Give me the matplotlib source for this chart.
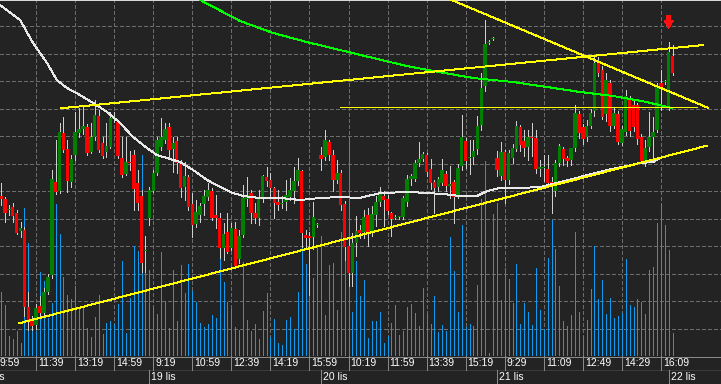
import numpy as np
import matplotlib
matplotlib.use("Agg")
import matplotlib.pyplot as plt
from matplotlib.transforms import offset_copy

plt.rcParams['font.family'] = ['Liberation Sans', 'DejaVu Sans']
plt.rcParams['lines.antialiased'] = False
plt.rcParams['patch.antialiased'] = False

# ---------------- data ----------------
bar_index = list(range(1, 174))

opens = [160,157,146,149,143,125,126,49,36,31,
         50,43,64,81,174,165,223,207,174,201,
         223,227,229,204,219,240,213,204,209,237,
         234,198,182,194,201,173,160,105,138,165,
         183,209,216,229,207,215,193,169,179,152,
         132,141,152,159,165,141,138,108,124,108,
         127,97,121,157,163,143,138,158,179,176,
         168,154,152,154,159,165,175,185,121,120,
         119,131,201,199,214,201,176,183,152,110,
         83,113,126,124,141,123,141,154,160,157,
         143,138,139,139,154,177,177,193,197,201,
         187,174,169,173,182,170,174,160,190,215,
         198,199,207,231,270,313,317,198,180,204,
         176,198,207,229,215,209,219,218,187,188,
         187,174,165,193,207,198,196,208,242,229,
         219,230,245,293,286,242,273,230,242,213,
         224,256,251,251,219,195,209,219,226,273,
         274,249,300]
highs = [173,159,151,153,146,134,129,64,40,52,
         60,68,82,186,216,233,239,216,201,244,
         248,249,232,233,256,246,219,233,244,244,
         236,219,219,205,206,186,166,120,169,186,
         219,238,233,233,219,219,196,194,181,163,
         156,153,166,173,168,161,143,133,143,133,
         134,126,171,179,166,153,166,181,189,183,
         169,166,160,176,178,189,198,186,126,124,
         154,133,209,226,216,206,196,186,155,118,
         123,140,131,146,148,150,160,169,165,161,
         144,141,140,160,181,182,196,214,204,203,
         197,176,179,197,185,190,176,192,241,218,
         216,216,240,283,336,316,319,205,214,206,
         206,212,235,231,226,226,233,226,196,201,
         201,179,196,212,209,200,208,251,245,232,
         236,247,299,299,290,283,276,248,245,230,
         266,260,255,253,222,216,244,239,273,286,
         276,314,311]
lows = [151,134,141,134,122,119,40,26,26,27,
        40,40,62,78,162,163,204,164,169,196,
        219,222,201,203,216,204,198,199,208,234,
        198,179,181,186,146,146,84,84,131,164,
        181,206,213,199,184,183,159,156,146,119,
        129,134,141,156,136,128,98,96,103,106,
        89,93,119,150,133,133,131,154,170,159,
        138,146,148,146,156,153,171,109,108,61,
        107,129,186,196,196,165,173,146,96,70,
        70,100,118,118,110,120,130,150,130,142,
        120,137,137,137,150,171,175,190,195,180,
        167,143,165,171,165,158,133,158,186,188,
        182,192,202,226,265,312,316,180,176,153,
        172,193,205,205,200,196,200,183,180,175,
        169,143,160,190,191,190,191,205,218,212,
        215,228,240,280,237,235,225,228,212,211,
        221,220,225,212,193,190,205,196,224,246,
        272,246,281]
closes = [157,143,147,140,123,128,49,34,30,48,
          43,64,79,177,164,224,206,175,197,224,
          227,230,203,219,241,206,200,210,238,238,
          200,181,194,193,167,153,93,106,166,183,
          216,219,227,206,213,193,168,180,149,131,
          144,150,160,166,138,138,108,122,104,128,
          90,120,158,161,143,138,158,180,175,168,
          153,151,153,161,166,175,186,123,118,118,
          139,131,197,216,201,176,183,151,109,83,
          113,125,123,139,123,142,154,164,156,145,
          137,139,139,158,177,180,193,197,202,184,
          173,168,177,186,170,172,159,188,219,195,
          199,205,230,268,312,314,318,186,204,176,
          203,208,230,211,208,219,218,187,189,188,
          173,170,193,210,197,195,208,243,223,217,
          230,243,293,283,239,276,230,243,214,227,
          260,225,229,217,195,208,219,224,270,269,
          274,304,283]
volumes = [64,51,20,17,25,13,148,113,26,25,
           84,75,38,53,152,122,79,61,57,70,
           49,49,28,19,39,61,22,33,35,32,
           52,95,23,58,110,105,201,118,86,49,
           42,104,55,28,86,35,91,63,92,65,
           54,33,29,32,41,38,97,74,54,47,
           29,26,94,36,25,32,17,45,63,19,
           37,13,11,36,39,27,64,167,92,74,
           78,109,120,41,91,93,46,124,100,219,
           44,95,60,76,18,35,35,44,13,20,
           33,51,21,25,49,52,43,30,68,42,
           32,60,24,31,25,119,85,44,131,29,
           32,30,71,157,195,3,142,153,56,88,
           77,53,92,32,53,44,31,88,46,27,
           98,136,107,70,35,30,41,124,44,20,
           36,67,110,57,76,42,58,38,40,43,
           97,51,49,57,54,42,86,89,133,152,
           131,106,23]

tick_index = list(range(0, 171, 10))
tick_labels = ['9:59', '11:39', '13:19', '14:59', '9:19', '10:59', '12:39', '14:19',
               '15:59', '10:19', '11:59', '13:39', '15:19', '9:29', '11:09', '12:49',
               '14:29', '16:09']
day_start_index = [-5, 39, 83, 128, 172]
day_labels = ['18 lis', '19 lis', '20 lis', '21 lis', '22 lis']

# slow moving average (green) and fast moving average (white)
ma_slow_index = [50, 52.0, 62.2, 70.7, 79.3, 87.8, 96.3, 104.9, 111.7, 121.9, 132.1,
                 140.8, 149.3, 157.8, 166.4, 170.6, 172.8]
ma_slow_value = [360, 356, 335, 323, 314, 306, 298, 290, 285, 278, 274,
                 269, 264, 260, 254, 250, 248]
ma_fast_index = [0.7, 5.9, 9.2, 12.8, 15.3, 17.9, 21.2, 24.6, 28.2, 31.5, 34.8, 38.4,
                 40.9, 43.5, 46.8, 50.2, 53.8, 57.1, 60.4, 63.0, 67.3, 72.5, 77.6,
                 82.7, 87.8, 92.9, 98.1, 105.8, 114.2, 118.6, 122.9, 125.5, 128.8,
                 133.9, 139.1, 144.2, 149.3, 156.2, 161.3, 164.7, 168.0, 169.8]
ma_fast_value = [351, 336, 313, 293, 276, 268, 261, 253, 244, 233, 219, 208,
                 201, 198, 194, 186, 176, 169, 163, 160, 158, 158, 156,
                 158, 159, 158, 163, 164, 162, 160, 160, 165, 168,
                 168, 169, 174, 179, 186, 190, 193, 194, 198]

# drawn trend lines: (start index, start price, end index, end price)
trend_upper = [16.3, 247.7, 180.9, 311.0]
trend_lower = [5.6, 32.7, 181.8, 210.3]
trend_down = [116.4, 356.0, 182.0, 248.3]
level_line = [87.8, 248.7, 179.2, 248.7]

signal_index = 172
signal_tip = 327.5
signal_tail = 341.0

# ---------------- figure ----------------
BG = '#232323'
W, H = 721, 384
LW = 0.7
fig = plt.figure(figsize=(W / 100, H / 100), dpi=100, facecolor=BG)
ax = fig.add_axes([0, 28 / H, 1, 356 / H], facecolor=BG)
ax.set_xlim(0.74, 185.4)
ax.set_ylim(0, 356)
for s in ['left', 'right', 'bottom']:
    ax.spines[s].set_visible(False)
ax.spines['top'].set_color('#d8d8d8')
ax.spines['top'].set_linewidth(1.2)
ax.set_xticks([])
ax.set_yticks([])

grid_kw = dict(color='#6c6c6c', lw=LW, linestyle=(0, (4, 3)), zorder=1)
for t in tick_index:
    ax.axvline(t, **grid_kw)
for k in range(1, 13):
    ax.axhline(27.5 * k, **grid_kw)

idx = np.array(bar_index, dtype=float)
o = np.array(opens, dtype=float)
h = np.array(highs, dtype=float)
l = np.array(lows, dtype=float)
c = np.array(closes, dtype=float)
v = np.array(volumes, dtype=float)

# volume
ax.vlines(idx, 0, v, colors='#0f9af2', lw=LW, zorder=2)

# candles
up = c >= o
colors = np.where(up, '#008000', '#ff0000')
ax.vlines(idx, l, h, colors='#cfcfcf', lw=LW, zorder=3)
body_bottom = np.minimum(o, c)
body_height = np.maximum(np.abs(c - o), 1.2)
ax.bar(idx, body_height, bottom=body_bottom, width=0.9, color=colors, lw=0, zorder=4)

# moving averages
ax.plot(ma_slow_index, ma_slow_value, color='#00ff00', lw=LW, zorder=5)
ax.plot(ma_fast_index, ma_fast_value, color='#e8e8e8', lw=LW, zorder=5)

# trend lines
for ln in (trend_upper, trend_lower, trend_down, level_line):
    ax.plot([ln[0], ln[2]], [ln[1], ln[3]], color='#ffff00', lw=LW, zorder=6)

# sell signal arrow
ax.annotate('', xy=(signal_index, signal_tip), xytext=(signal_index, signal_tail),
            arrowprops=dict(facecolor='#ff1010', edgecolor='none', width=3.0,
                            headwidth=6.5, headlength=5.5, shrink=0), zorder=7)

# ---------------- time axis strip ----------------
ax2 = fig.add_axes([0, 0, 1, 28 / H], facecolor=BG)
ax2.set_xlim(0.74, 185.4)
ax2.set_ylim(0, 28)
for s in ax2.spines.values():
    s.set_visible(False)
ax2.set_xticks([])
ax2.set_yticks([])
ax2.axhline(27.5, color='#8a8a8a', lw=LW)
ax2.axhline(14, color='#3a3a3a', lw=LW)
ax2.vlines(tick_index, 14, 28, colors='#8a8a8a', lw=LW)
ax2.vlines(day_start_index, 0, 14, colors='#8a8a8a', lw=LW)
tr = offset_copy(ax2.transData, fig=fig, x=2, y=0, units='dots')
for t, lab in zip(tick_index, tick_labels):
    ax2.text(t, 20.6, lab, transform=tr, color='white', fontsize=7.5,
             ha='left', va='center', clip_on=True)
for t, lab in zip(day_start_index, day_labels):
    ax2.text(t, 7.2, lab, transform=tr, color='white', fontsize=7.5,
             ha='left', va='center', clip_on=True)

fig.savefig('out.png', dpi=100, facecolor=BG)
